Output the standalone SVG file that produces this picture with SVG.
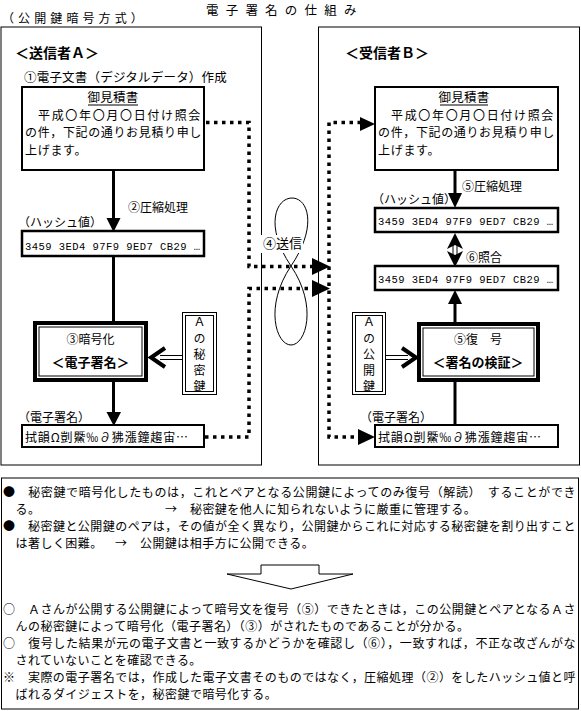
<svg xmlns="http://www.w3.org/2000/svg" width="581" height="711" viewBox="0 0 581 711">
<defs>
<style>
text{font-family:"Noto Sans CJK JP","Noto Sans CJK SC",sans-serif;fill:#000}
.doc{font-size:12.5px;letter-spacing:0.2px}
.para{font-size:12px}
.l2{letter-spacing:1.67px}
.l3{letter-spacing:0.64px}
.l4{letter-spacing:0.7px}
.lbl{font-size:12px}
.hash{font-family:"Liberation Mono","DejaVu Sans Mono",monospace;font-size:10.5px}
.b{font-weight:bold}
.panel{fill:none;stroke:#000;stroke-width:1}
.box{fill:#fff;stroke:#000;stroke-width:2}
.hbox{fill:#fff;stroke:#000;stroke-width:2.5}
.thin{fill:none;stroke:#000;stroke-width:1}
.heavy{fill:#fff;stroke:#000;stroke-width:4}
.dot{fill:none;stroke:#000;stroke-width:3.5;stroke-dasharray:3.5 4.5}
.ln{stroke:#000;stroke-width:3;fill:none}
.head{fill:#000;stroke:none}
.chev{fill:none;stroke:#000;stroke-width:4;stroke-linejoin:miter}
.note{font-size:12px;letter-spacing:0.46px}
.vk{font-size:12px;writing-mode:vertical-rl;letter-spacing:4px}
</style>
</defs>
<rect x="0" y="0" width="581" height="711" fill="#fff"/>

<g id="title">
<text x="206" y="14.6" font-size="12.5" letter-spacing="7.2">電子署名の仕組み</text>
<text x="2" y="23" font-size="12" letter-spacing="4.1">（公開鍵暗号方式）</text>
</g>

<g id="sender-panel">
<rect x="1" y="27" width="260.5" height="438" class="panel"/>
<text x="15" y="58" font-size="14" class="b">＜送信者Ａ＞</text>
<text x="24" y="82" class="doc">①電子文書（デジタルデータ）作成</text>
<text x="128" y="212" class="lbl">②圧縮処理</text>
<text x="18" y="227" class="lbl">（ハッシュ値）</text>
<text x="18" y="422" class="lbl">（電子署名）</text>
</g>

<g id="receiver-panel">
<rect x="318.5" y="27" width="261" height="438" class="panel"/>
<text x="345" y="58" font-size="14" class="b">＜受信者Ｂ＞</text>
<text x="462" y="191" class="lbl">⑤圧縮処理</text>
<text x="372" y="204" class="lbl">（ハッシュ値）</text>
<text x="466" y="262" class="lbl">⑥照合</text>
<text x="360" y="422" class="lbl">（電子署名）</text>
</g>

<g id="connectors">
<line x1="113.5" y1="170" x2="113.5" y2="220" class="ln"/>
<polygon points="106.5,218 120.5,218 113.5,232" class="head"/>
<line x1="113.5" y1="256" x2="113.5" y2="322" class="ln"/>
<line x1="113.5" y1="382" x2="113.5" y2="414" class="ln"/>
<polygon points="106.5,412 121,412 113.8,426" class="head"/>
<line x1="160" y1="355.5" x2="182" y2="355.5" stroke="#000" stroke-width="1"/>
<line x1="160" y1="359.5" x2="182" y2="359.5" stroke="#000" stroke-width="1"/>
<polyline points="165,348 151,357.5 165,367" class="chev"/>
<line x1="455" y1="170" x2="455" y2="195" class="ln"/>
<polygon points="448,193 462,193 455,208" class="head"/>
<line x1="453" y1="242" x2="453" y2="257" stroke="#000" stroke-width="1"/>
<line x1="457" y1="242" x2="457" y2="257" stroke="#000" stroke-width="1"/>
<path d="M455,233 L463,249 L455,245 L447,249 Z" class="head"/>
<path d="M455,267 L463,251 L455,255 L447,251 Z" class="head"/>
<line x1="455" y1="302" x2="455" y2="323" class="ln"/>
<polygon points="448,304 462,304 455,290" class="head"/>
<line x1="455" y1="382" x2="455" y2="425" class="ln"/>
<line x1="386" y1="355.5" x2="408" y2="355.5" stroke="#000" stroke-width="1"/>
<line x1="386" y1="359.5" x2="408" y2="359.5" stroke="#000" stroke-width="1"/>
<polyline points="402,348 416,357.5 402,367" class="chev"/>
<path d="M206,122.5 H249 V266.5 H314" class="dot"/>
<polygon points="312,258 330,266.5 312,275" class="head"/>
<path d="M205,437 H249 V288.5 H314" class="dot"/>
<polygon points="312,280 330,288.5 312,297" class="head"/>
<path d="M361,122.5 H329 V437 H360" class="dot"/>
<polygon points="360,117 375,124 360,131" class="head"/>
<polygon points="358,429 375,437 358,445" class="head"/>
<path d="M291,266 C264,226 276,198 292,198 C308,198 318,226 291,266 C264,306 276,345 291,345 C306,345 318,306 291,266 Z" class="thin"/>
</g>

<g id="send-label">
<rect x="257" y="235" width="46" height="18" fill="#fff"/>
<text x="263" y="248" font-size="13">④送信</text>
</g>

<g id="doc-a">
<rect x="22" y="87" width="182" height="83" class="box"/>
<text x="113" y="102" class="doc" text-anchor="middle">御見積書</text>
<line x1="88" y1="105" x2="138" y2="105" stroke="#000" stroke-width="1"/>
<text x="38" y="119.8" class="para l2">平成〇年〇月〇日付け照会</text>
<text x="25" y="137.3" class="para l3">の件，下記の通りお見積り申し</text>
<text x="25" y="154.8" class="para l4">上げます。</text>
</g>

<g id="hash-a">
<rect x="22" y="231" width="182" height="25" class="hbox"/>
<text x="25" y="250" class="hash" textLength="175">3459 3ED4 97F9 9ED7 CB29 …</text>
</g>

<g id="sign-a">
<rect x="35" y="323" width="111" height="57" class="heavy"/>
<rect x="39" y="327" width="103" height="49" class="thin"/>
<text x="90.5" y="344" class="lbl" text-anchor="middle">③暗号化</text>
<text x="90.5" y="367" font-size="13" class="b" text-anchor="middle">＜電子署名＞</text>
</g>

<g id="key-a">
<rect x="182.5" y="312.5" width="34" height="82" fill="#fff" stroke="#000" stroke-width="1"/>
<rect x="185.5" y="315.5" width="28" height="76" class="thin"/>
<text x="199.5" y="316" class="vk">Ａの秘密鍵</text>
</g>

<g id="sig-a">
<rect x="22" y="425" width="182" height="22" class="box"/>
<text x="25" y="442" class="lbl" textLength="163">拭韻Ω剴鱀‰∂狒漲鐘趨宙…</text>
</g>

<g id="doc-b">
<rect x="375" y="87" width="183" height="83" class="box"/>
<text x="464" y="102" class="doc" text-anchor="middle">御見積書</text>
<line x1="440" y1="105" x2="488" y2="105" stroke="#000" stroke-width="1"/>
<text x="391" y="119.8" class="para l2">平成〇年〇月〇日付け照会</text>
<text x="378" y="137.3" class="para l3">の件，下記の通りお見積り申し</text>
<text x="378" y="154.8" class="para l4">上げます。</text>
</g>

<g id="hash-b1">
<rect x="375" y="208" width="183" height="24" class="hbox"/>
<text x="378" y="225" class="hash" textLength="175">3459 3ED4 97F9 9ED7 CB29 …</text>
</g>

<g id="hash-b2">
<rect x="375" y="266" width="183" height="24" class="hbox"/>
<text x="378" y="283" class="hash" textLength="175">3459 3ED4 97F9 9ED7 CB29 …</text>
</g>

<g id="verify-b">
<rect x="419" y="324" width="119" height="56" class="heavy"/>
<rect x="423" y="328" width="111" height="48" class="thin"/>
<text x="478" y="344" class="lbl" text-anchor="middle">⑤復　号</text>
<text x="478" y="367" font-size="13" class="b" text-anchor="middle">＜署名の検証＞</text>
</g>

<g id="key-b">
<rect x="352.5" y="312.5" width="33" height="82" fill="#fff" stroke="#000" stroke-width="1"/>
<rect x="355.5" y="315.5" width="27" height="76" class="thin"/>
<text x="369" y="316" class="vk">Ａの公開鍵</text>
</g>

<g id="sig-b">
<rect x="375" y="425" width="183" height="22" class="box"/>
<text x="378" y="442" class="lbl" textLength="163">拭韻Ω剴鱀‰∂狒漲鐘趨宙…</text>
</g>

<g id="notes">
<rect x="1.5" y="478" width="577" height="231" class="panel"/>
<text x="3" y="497" class="note" textLength="573">●　秘密鍵で暗号化したものは，これとペアとなる公開鍵によってのみ復号（解読）　することができ</text>
<text x="15.5" y="514" class="note">る。</text>
<text x="165" y="514" class="note">→　秘密鍵を他人に知られないように厳重に管理する。</text>
<text x="3" y="531" class="note" textLength="573">●　秘密鍵と公開鍵のペアは，その値が全く異なり，公開鍵からこれに対応する秘密鍵を割り出すこと</text>
<text x="15.5" y="548" class="note">は著しく困難。</text>
<text x="115" y="548" class="note">→　公開鍵は相手方に公開できる。</text>
<polygon points="227,574 261,574 261,565 319,565 319,574 353,574 291,589" fill="#fff" stroke="#000" stroke-width="1"/>
<text x="3" y="614" class="note" textLength="573">○　Ａさんが公開する公開鍵によって暗号文を復号（⑤）できたときは，この公開鍵とペアとなるＡさ</text>
<text x="15.5" y="631" class="note">んの秘密鍵によって暗号化（電子署名）（③）がされたものであることが分かる。</text>
<text x="3" y="648" class="note" textLength="573">○　復号した結果が元の電子文書と一致するかどうかを確認し（⑥），一致すれば，不正な改ざんがな</text>
<text x="15.5" y="665" class="note">されていないことを確認できる。</text>
<text x="3" y="682" class="note" textLength="573">※　実際の電子署名では，作成した電子文書そのものではなく，圧縮処理（②）をしたハッシュ値と呼</text>
<text x="15.5" y="699" class="note">ばれるダイジェストを，秘密鍵で暗号化する。</text>
</g>
</svg>
